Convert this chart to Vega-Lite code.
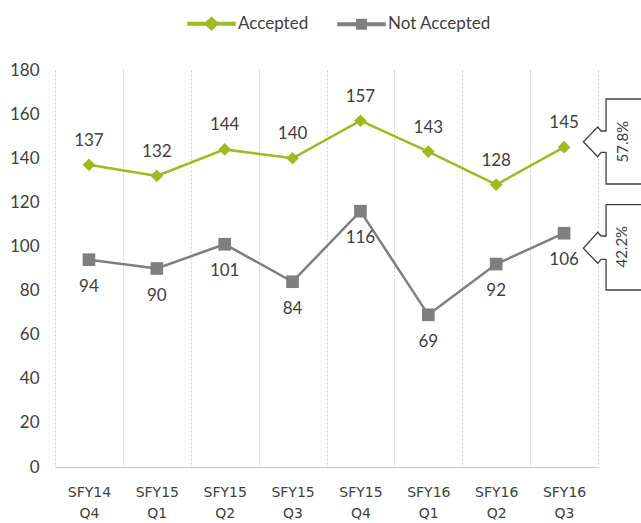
{
  "$schema": "https://vega.github.io/schema/vega-lite/v6.json",
  "autosize": "none",
  "width": 543,
  "height": 397,
  "padding": {"left": 55, "top": 70, "right": 43, "bottom": 56},
  "background": "white",
  "config": {
    "view": {"stroke": null},
    "font": "Lato",
    "text": {"font": "Lato"}
  },
  "datasets": {
    "main": [
      {"q": "SFY14 Q4", "series": "Accepted", "value": 137},
      {"q": "SFY15 Q1", "series": "Accepted", "value": 132},
      {"q": "SFY15 Q2", "series": "Accepted", "value": 144},
      {"q": "SFY15 Q3", "series": "Accepted", "value": 140},
      {"q": "SFY15 Q4", "series": "Accepted", "value": 157},
      {"q": "SFY16 Q1", "series": "Accepted", "value": 143},
      {"q": "SFY16 Q2", "series": "Accepted", "value": 128},
      {"q": "SFY16 Q3", "series": "Accepted", "value": 145},
      {"q": "SFY14 Q4", "series": "Not Accepted", "value": 94},
      {"q": "SFY15 Q1", "series": "Not Accepted", "value": 90},
      {"q": "SFY15 Q2", "series": "Not Accepted", "value": 101},
      {"q": "SFY15 Q3", "series": "Not Accepted", "value": 84},
      {"q": "SFY15 Q4", "series": "Not Accepted", "value": 116},
      {"q": "SFY16 Q1", "series": "Not Accepted", "value": 69},
      {"q": "SFY16 Q2", "series": "Not Accepted", "value": 92},
      {"q": "SFY16 Q3", "series": "Not Accepted", "value": 106}
    ],
    "shares": [
      {"q": "SFY16 Q3", "series": "Accepted", "value": 145, "share": "57.8%"},
      {"q": "SFY16 Q3", "series": "Not Accepted", "value": 106, "share": "42.2%"}
    ]
  },
  "encoding": {
    "x": {
      "field": "q", "type": "nominal", "sort": null,
      "scale": {"paddingInner": 0, "paddingOuter": 0},
      "axis": {
        "title": null,
        "tickBand": "extent",
        "ticks": false,
        "grid": true,
        "gridColor": "#D0D0D0",
        "gridDash": [2, 2],
        "gridWidth": 1,
        "domainColor": "#C8C8C8",
        "domainWidth": 1,
        "labelAngle": 0,
        "labelExpr": "split(datum.label, ' ')",
        "labelFont": "DejaVu Sans",
        "labelFontSize": 14,
        "labelLineHeight": 21,
        "labelColor": "#404040",
        "labelPadding": 18
      }
    },
    "y": {
      "field": "value", "type": "quantitative",
      "scale": {"domain": [0, 180], "nice": false},
      "axis": {
        "title": null,
        "values": [0, 20, 40, 60, 80, 100, 120, 140, 160, 180],
        "grid": false,
        "domain": false,
        "ticks": false,
        "labelFontSize": 17,
        "labelColor": "#404040",
        "labelPadding": 16
      }
    }
  },
  "layer": [
    {
      "data": {"name": "main"},
      "mark": {"type": "line", "strokeWidth": 2.5},
      "encoding": {
        "color": {
          "field": "series", "type": "nominal",
          "scale": {"domain": ["Accepted", "Not Accepted"], "range": ["#9BBB1F", "#7F7F7F"]},
          "legend": {
            "title": null,
            "orient": "none",
            "legendX": 132,
            "legendY": -71,
            "direction": "horizontal",
            "symbolSize": 2209,
            "labelFontSize": 17,
            "labelColor": "#404040",
            "labelOffset": 2,
            "columnPadding": 26,
            "padding": 0,
            "encode": {
              "symbols": {
                "update": {
                  "shape": {"signal": "datum.value === 'Accepted' ? 'M-1,-0.055L-0.23,-0.055L0,-0.26L0.23,-0.055L1,-0.055L1,0.055L0.23,0.055L0,0.26L-0.23,0.055L-1,0.055Z' : 'M-1,-0.055L-0.2,-0.055L-0.2,-0.2L0.2,-0.2L0.2,-0.055L1,-0.055L1,0.055L0.2,0.055L0.2,0.2L-0.2,0.2L-0.2,0.055L-1,0.055Z'"},
                  "fill": {"signal": "datum.value === 'Accepted' ? '#9BBB1F' : '#7F7F7F'"},
                  "stroke": {"value": "transparent"},
                  "opacity": {"value": 1}
                }
              }
            }
          }
        }
      }
    },
    {
      "data": {"name": "main"},
      "mark": {"type": "point", "filled": true, "size": 160, "opacity": 1},
      "encoding": {
        "fill": {
          "condition": {"test": "datum.series === 'Accepted'", "value": "#9BBB1F"},
          "value": "#7F7F7F"
        },
        "shape": {
          "condition": {"test": "datum.series === 'Accepted'", "value": "diamond"},
          "value": "square"
        }
      }
    },
    {
      "data": {"name": "main"},
      "transform": [{"filter": "datum.series === 'Accepted'"}],
      "mark": {"type": "text", "dy": -24, "fontSize": 17, "color": "#404040", "baseline": "middle"},
      "encoding": {"text": {"field": "value", "type": "quantitative"}}
    },
    {
      "data": {"name": "main"},
      "transform": [{"filter": "datum.series === 'Not Accepted'"}],
      "mark": {"type": "text", "dy": 27, "fontSize": 17, "color": "#404040", "baseline": "middle"},
      "encoding": {"text": {"field": "value", "type": "quantitative"}}
    },
    {
      "data": {"name": "shares"},
      "mark": {"type": "point", "filled": true, "fill": "white", "stroke": "#404040", "strokeWidth": 1.3, "size": 400, "opacity": 1},
      "encoding": {
        "shape": {
          "condition": {"test": "datum.series === 'Accepted'", "value": "M8.2,-4.82L4.2,-4.82L4.2,-1.62L3.7,-1.62L3.37,-2.02L1.93,-0.55L3.37,0.95L3.7,0.51L4.2,0.51L4.2,3.68L8.2,3.68Z"},
          "value": "M8.2,-2.85L4.2,-2.85L4.2,0.28L3.7,0.28L3.37,-0.09L1.93,1.51L3.37,3.01L3.7,2.61L4.2,2.61L4.2,5.68L8.2,5.68Z"
        }
      }
    },
    {
      "data": {"name": "shares"},
      "transform": [{"filter": "datum.series === 'Accepted'"}],
      "mark": {"type": "text", "angle": 270, "dx": 5.5, "dy": 59, "fontSize": 15, "color": "#404040", "align": "center", "baseline": "middle"},
      "encoding": {"text": {"field": "share", "type": "nominal"}}
    },
    {
      "data": {"name": "shares"},
      "transform": [{"filter": "datum.series === 'Not Accepted'"}],
      "mark": {"type": "text", "angle": 270, "dx": -13.5, "dy": 57.7, "fontSize": 15, "color": "#404040", "align": "center", "baseline": "middle"},
      "encoding": {"text": {"field": "share", "type": "nominal"}}
    }
  ]
}
